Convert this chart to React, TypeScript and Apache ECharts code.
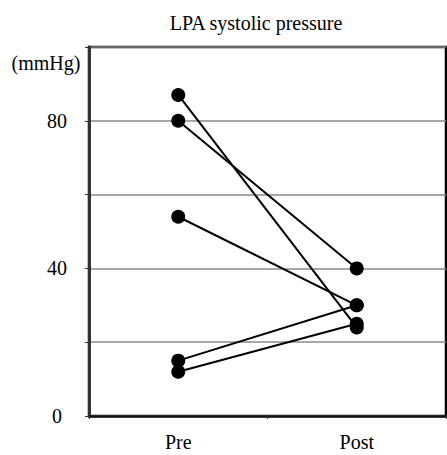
import React, { useEffect, useRef } from "react";
import * as echarts from "echarts";

const categories = ["Pre", "Post"];
const preValues = [87, 80, 54, 15, 12];
const postValues = [24, 40, 30, 30, 25];
const yTickLabels = ["0", "40", "80"];
const titleText = "LPA systolic pressure";
const unitText = "(mmHg)";

const FONT = "Liberation Serif";

export default function App() {
  const ref = useRef<HTMLDivElement>(null);
  useEffect(() => {
    if (!ref.current) return;
    const chart = echarts.init(ref.current, null, { renderer: "svg" });
    const series = preValues.map((p, i) => ({
      type: "line",
      data: [p, postValues[i]],
      symbol: "circle",
      symbolSize: 14,
      itemStyle: { color: "#000" },
      lineStyle: { color: "#000", width: 2 },
      z: 5,
    }));
    chart.setOption({
      animation: false,
      backgroundColor: "#fff",
      title: {
        text: titleText,
        left: 251,
        top: 8,
        textAlign: "center",
        textStyle: { fontFamily: FONT, fontSize: 20, fontWeight: "normal", color: "#000" },
      },
      graphic: [
        {
          type: "text",
          x: 46,
          y: 63,
          style: {
            text: unitText,
            fontFamily: FONT,
            fontSize: 20,
            fill: "#000",
            align: "center",
            verticalAlign: "middle",
          },
        },
      ],
      grid: {
        left: 89,
        right: 1,
        top: 47,
        bottom: 39,
        show: true,
        borderColor: "#000",
        borderWidth: 2.5,
      },
      xAxis: {
        type: "category",
        data: categories,
        boundaryGap: true,
        axisLine: { lineStyle: { color: "#111", width: 2.5 } },
        axisTick: { show: true, length: 3, lineStyle: { color: "#333" } },
        axisLabel: { fontFamily: FONT, fontSize: 20, color: "#000", margin: 16 },
        splitLine: { show: false },
      },
      yAxis: {
        type: "value",
        min: 0,
        max: 100,
        interval: 20,
        axisLine: { show: true, lineStyle: { color: "#333", width: 3 } },
        axisTick: { show: true, length: 4, lineStyle: { color: "#333" } },
        axisLabel: {
          fontFamily: FONT,
          fontSize: 20,
          color: "#000",
          align: "center",
          margin: 32,
          formatter: (v: number) => (yTickLabels.includes(String(v)) ? String(v) : ""),
        },
        splitLine: { show: true, lineStyle: { color: "#8a8a8a", width: 1.5 } },
      },
      series,
    });
    return () => chart.dispose();
  }, []);
  return (
    <div
      ref={ref}
      style={{ position: "absolute", left: 0, top: 0, width: 447, height: 455 }}
    />
  );
}
